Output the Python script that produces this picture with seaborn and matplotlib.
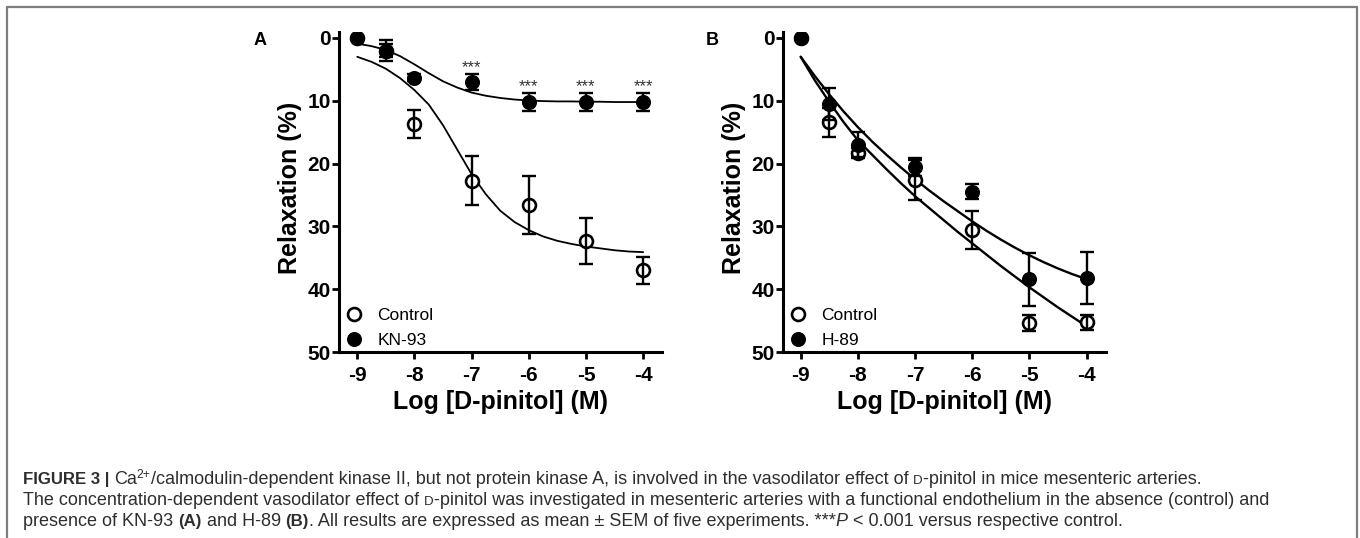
import numpy as np
import pandas as pd
import matplotlib
matplotlib.use("Agg")
import matplotlib.pyplot as plt
import seaborn as sns
from matplotlib.lines import Line2D

# points: log concentration of D-pinitol
log_conc = [-9, -8.5, -8, -7, -6, -5, -4]

# panel A (KN-93)
a_control = [0, 2.0, 13.7, 22.7, 26.6, 32.3, 37.0]
a_control_sem = [0, 1.0, 2.2, 3.9, 4.6, 3.7, 2.2]
a_kn93 = [0, 2.0, 6.3, 7.0, 10.2, 10.2, 10.2]
a_kn93_sem = [0, 1.6, 0.5, 1.3, 1.5, 1.5, 1.5]
a_stars_at = [-7, -6, -5, -4]

# panel B (H-89)
b_control = [0, 13.4, 18.3, 22.6, 30.6, 45.4, 45.3]
b_control_sem = [0, 2.3, 0.8, 3.2, 3.0, 1.3, 1.2]
b_h89 = [0, 10.5, 17.0, 20.5, 24.5, 38.4, 38.2]
b_h89_sem = [0, 2.5, 2.0, 1.4, 1.2, 4.2, 4.2]

# fitted curves, every 0.25 log unit
curve_x = [-9, -8.75, -8.5, -8.25, -8, -7.75, -7.5, -7.25, -7, -6.75, -6.5,
           -6.25, -6, -5.75, -5.5, -5.25, -5, -4.75, -4.5, -4.25, -4]
a_control_fit = [3.0, 3.8, 4.9, 6.4, 8.3, 10.6, 13.9, 17.8, 21.7, 24.9, 27.5,
                 29.3, 30.6, 31.6, 32.3, 32.8, 33.2, 33.5, 33.8, 34.0, 34.1]
a_kn93_fit = [0.9, 1.3, 1.9, 2.9, 4.2, 5.6, 6.9, 7.9, 8.7, 9.2, 9.55,
              9.8, 9.95, 10.05, 10.1, 10.1, 10.15, 10.15, 10.2, 10.2, 10.2]
b_control_fit = [3.0, 6.8, 10.2, 13.4, 16.3, 18.6, 20.9, 23.1, 25.2, 27.1, 29.0,
                 30.9, 32.7, 34.5, 36.3, 38.0, 39.7, 41.3, 42.9, 44.4, 45.9]
b_h89_fit = [3.0, 6.1, 9.0, 11.7, 14.2, 16.5, 18.6, 20.6, 22.5, 24.3, 26.0,
             27.6, 29.2, 30.7, 32.1, 33.4, 34.6, 35.7, 36.7, 37.6, 38.4]

x_ticks = [-9, -8, -7, -6, -5, -4]
y_ticks = [0, 10, 20, 30, 40, 50]

W, H = 1360, 538

sns.set_theme(style="ticks")
plt.rcParams["font.family"] = ["Liberation Sans", "DejaVu Sans"]

fig = plt.figure(figsize=(W / 100, H / 100), dpi=100)


def axes_at(left_px, right_px, top_px, bottom_px):
    return fig.add_axes([left_px / W, 1 - bottom_px / H,
                         (right_px - left_px) / W, (bottom_px - top_px) / H])


def draw_points(ax, y, sem, filled, z):
    df = pd.DataFrame({"x": log_conc, "y": y, "sem": sem})
    if filled:
        sns.scatterplot(data=df, x="x", y="y", ax=ax, marker="o", s=118,
                        color="black", edgecolor="black", linewidth=0, zorder=z)
    else:
        sns.scatterplot(data=df, x="x", y="y", ax=ax, marker="o", s=86,
                        facecolor="white", edgecolor="black", linewidth=1.9, zorder=z)
    bars = df[df["sem"] > 0]
    ax.errorbar(bars["x"], bars["y"], yerr=bars["sem"], fmt="none", ecolor="black",
                elinewidth=1.7, capsize=5, capthick=1.7, zorder=z + 0.5)


def style_axis(ax, letter, letter_x, names):
    ax.set_xlim(-9.32, -3.67)
    ax.set_ylim(50, -1.0)
    ax.set_xticks(x_ticks)
    ax.set_yticks(y_ticks)
    ax.set_xticklabels([str(t) for t in x_ticks])
    ax.set_yticklabels([str(t) for t in y_ticks])
    sns.despine(ax=ax)
    for s in ["left", "bottom"]:
        ax.spines[s].set_linewidth(2.2)
        ax.spines[s].set_color("black")
    ax.tick_params(axis="both", direction="out", length=5, width=2, color="black",
                   labelsize=15, labelcolor="black")
    ax.tick_params(axis="x", pad=5)
    ax.tick_params(axis="y", pad=1)
    for lab in ax.get_xticklabels() + ax.get_yticklabels():
        lab.set_fontweight("bold")
    ax.set_xlabel("Log [D-pinitol] (M)", fontsize=18, fontweight="bold", color="black")
    ax.set_ylabel("Relaxation (%)", fontsize=18, fontweight="bold", color="black")
    ax.xaxis.set_label_coords(0.5, -0.12)
    ax.yaxis.set_label_coords(-0.114, 0.513)
    ax.set_facecolor("white")
    ax.grid(False)
    handles = [
        Line2D([], [], ls="none", marker="o", ms=9.3, mfc="white", mec="black", mew=1.9),
        Line2D([], [], ls="none", marker="o", ms=10.8, mfc="black", mec="black", mew=0),
    ]
    leg = ax.legend(handles, names, loc="lower left", bbox_to_anchor=(0.02, 0.012),
                    frameon=False, fontsize=12.5, handlelength=1.0, handletextpad=0.85,
                    labelspacing=0.55, borderpad=0, borderaxespad=0)
    for t in leg.get_texts():
        t.set_color("black")
    ax.text(letter_x, 0.974, letter, transform=ax.transAxes, fontsize=13,
            fontweight="bold", ha="center", va="center", color="black")


# panel A
axA = axes_at(339, 662, 31.7, 352)
sns.lineplot(x=curve_x, y=a_control_fit, ax=axA, color="black", linewidth=1.3, zorder=2)
sns.lineplot(x=curve_x, y=a_kn93_fit, ax=axA, color="black", linewidth=1.3, zorder=2)
draw_points(axA, a_control, a_control_sem, False, 3)
draw_points(axA, a_kn93, a_kn93_sem, True, 5)
for xs in a_stars_at:
    i = log_conc.index(xs)
    axA.text(xs, a_kn93[i] - a_kn93_sem[i] + 0.2, "***", ha="center", va="bottom",
             fontsize=12, color="#333333", zorder=6)
style_axis(axA, "A", -0.245, ["Control", "KN-93"])

# panel B
axB = axes_at(783, 1106, 31.7, 352)
sns.lineplot(x=curve_x, y=b_control_fit, ax=axB, color="black", linewidth=1.7, zorder=2)
sns.lineplot(x=curve_x, y=b_h89_fit, ax=axB, color="black", linewidth=1.7, zorder=2)
draw_points(axB, b_control, b_control_sem, False, 3)
draw_points(axB, b_h89, b_h89_sem, True, 5)
style_axis(axB, "B", -0.22, ["Control", "H-89"])
axB.set_xlim(-9.31, -3.66)

# page frame
frame_color = "#7f7f7f"
fig.add_artist(Line2D([7 / W, 1357 / W], [1 - 7 / H, 1 - 7 / H], transform=fig.transFigure,
                      color=frame_color, linewidth=1.6))
fig.add_artist(Line2D([7 / W, 7 / W], [0, 1 - 7 / H], transform=fig.transFigure,
                      color=frame_color, linewidth=1.6))
fig.add_artist(Line2D([1357 / W, 1357 / W], [0, 1 - 7 / H], transform=fig.transFigure,
                      color=frame_color, linewidth=1.6))

# caption, written run by run so bold / small caps / superscript can mix
cap_color = "#2e2e2e"
renderer = fig.canvas.get_renderer()


def run_width(txt, size, weight, style):
    a = fig.text(0, 0, txt + "|", fontsize=size, fontweight=weight, fontstyle=style)
    b = fig.text(0, 0, "|", fontsize=size, fontweight=weight, fontstyle=style)
    w = a.get_window_extent(renderer).width - b.get_window_extent(renderer).width
    a.remove()
    b.remove()
    return w


def put_runs(x_px, base_px, runs, size):
    x = x_px
    for txt, kind in runs:
        fs, weight, style, dy = size, "normal", "normal", 0
        if kind == "b":
            fs, weight = size * 0.93, "bold"
        elif kind == "i":
            style = "italic"
        elif kind == "sup":
            fs, dy = size * 0.68, 6
        elif kind == "sc":
            fs = size * 0.74
        fig.text(x / W, 1 - (base_px - dy) / H, txt, fontsize=fs, fontweight=weight,
                 fontstyle=style, ha="left", va="baseline", color=cap_color)
        x += run_width(txt, fs, weight, style)


line1 = [("FIGURE 3 | ", "b"), ("Ca", "r"), ("2+", "sup"),
         ("/calmodulin-dependent kinase II, but not protein kinase A, is involved in the vasodilator effect of ", "r"),
         ("D", "sc"), ("-pinitol in mice mesenteric arteries.", "r")]
line2 = [("The concentration-dependent vasodilator effect of ", "r"), ("D", "sc"),
         ("-pinitol was investigated in mesenteric arteries with a functional endothelium in the absence (control) and", "r")]
line3 = [("presence of KN-93 ", "r"), ("(A)", "b"), (" and H-89 ", "r"), ("(B)", "b"),
         (". All results are expressed as mean \u00b1 SEM of five experiments. ***", "r"),
         ("P", "i"), (" < 0.001 versus respective control.", "r")]

cap_size = 13.0
put_runs(23, 484, line1, cap_size)
put_runs(23, 505, line2, cap_size)
put_runs(23, 526, line3, cap_size)

fig.savefig("out.png", dpi=100, facecolor="white")
